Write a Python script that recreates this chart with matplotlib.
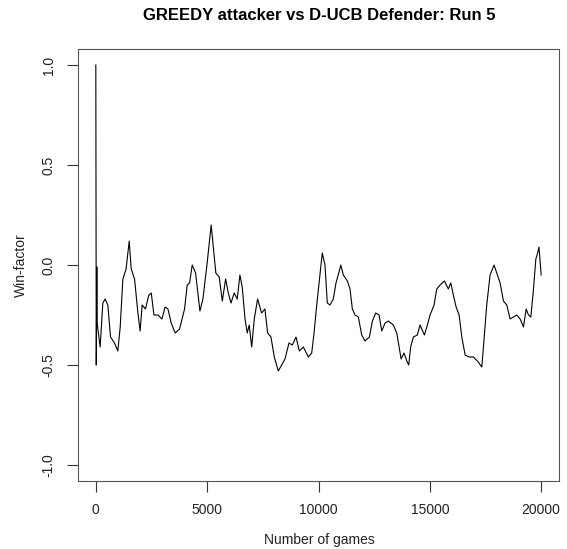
import numpy as np
import matplotlib.pyplot as plt

plt.rcParams['font.family'] = ['Liberation Sans', 'DejaVu Sans']

# Win-factor trace (game number, value)
games = [0, 20, 45, 60, 195, 315, 420, 540, 660, 840, 990, 1095, 1215, 1360,
         1500, 1590, 1740, 1890, 1990, 2080, 2230, 2380, 2490, 2610, 2790,
         2970, 3110, 3240, 3385, 3565, 3760, 3985, 4105, 4210, 4330, 4480,
         4675, 4810, 5000, 5180, 5300, 5390, 5540, 5680, 5830, 5950, 6070,
         6215, 6350, 6470, 6575, 6700, 6800, 6890, 7000, 7115, 7265, 7445,
         7595, 7715, 7865, 8015, 8195, 8345, 8495, 8675, 8825, 8990, 9140,
         9320, 9545, 9695, 9800, 9920, 10065, 10170, 10290, 10395, 10515,
         10665, 10785, 10935, 11000, 11115, 11295, 11415, 11520, 11640,
         11790, 11940, 12090, 12285, 12420, 12570, 12720, 12840, 12990,
         13140, 13360, 13515, 13620, 13710, 13840, 13965, 14050, 14140,
         14260, 14440, 14560, 14755, 14890, 15010, 15190, 15310, 15460,
         15655, 15830, 15940, 16055, 16180, 16315, 16435, 16585, 16760,
         16955, 17135, 17335, 17435, 17555, 17705, 17885, 18035, 18155,
         18305, 18455, 18605, 18755, 18905, 19055, 19205, 19325, 19430,
         19535, 19655, 19760, 19840, 19900, 20000]
win_factor = [1.0, -0.5, -0.01, -0.29, -0.41, -0.19, -0.17, -0.20, -0.36,
              -0.39, -0.43, -0.31, -0.07, -0.02, 0.12, -0.02, -0.07, -0.24,
              -0.33, -0.20, -0.22, -0.15, -0.14, -0.25, -0.25, -0.27, -0.21,
              -0.22, -0.29, -0.34, -0.32, -0.22, -0.10, -0.09, 0.00, -0.04,
              -0.23, -0.17, 0.01, 0.20, 0.06, -0.04, -0.06, -0.18, -0.07,
              -0.14, -0.19, -0.14, -0.17, -0.05, -0.11, -0.27, -0.34, -0.30,
              -0.41, -0.27, -0.17, -0.24, -0.22, -0.34, -0.36, -0.46, -0.53,
              -0.50, -0.47, -0.39, -0.40, -0.36, -0.43, -0.41, -0.46, -0.44,
              -0.34, -0.20, -0.05, 0.06, 0.00, -0.19, -0.20, -0.17, -0.09,
              -0.03, 0.00, -0.05, -0.08, -0.12, -0.22, -0.25, -0.26, -0.35,
              -0.38, -0.36, -0.28, -0.24, -0.25, -0.33, -0.29, -0.28, -0.30,
              -0.34, -0.41, -0.47, -0.44, -0.48, -0.50, -0.41, -0.36, -0.35,
              -0.30, -0.35, -0.30, -0.25, -0.20, -0.12, -0.10, -0.08, -0.12,
              -0.09, -0.15, -0.21, -0.25, -0.36, -0.45, -0.46, -0.46, -0.48,
              -0.51, -0.37, -0.20, -0.05, 0.00, -0.05, -0.09, -0.18, -0.20,
              -0.27, -0.26, -0.25, -0.27, -0.31, -0.22, -0.25, -0.26, -0.12,
              0.03, 0.06, 0.09, -0.05]

xticks = [0, 5000, 10000, 15000, 20000]
yticks = [-1.0, -0.5, 0.0, 0.5, 1.0]

fig = plt.figure(figsize=(5.67, 5.49), dpi=100)
# plot box: x 78..559 px, y 49..481 px
ax = fig.add_axes([78 / 567, 68 / 549, 481 / 567, 432 / 549])

ax.plot(games, win_factor, color='black', linewidth=0.8)

ax.set_xlim(-800, 20800)
ax.set_ylim(-1.08, 1.08)
ax.set_xticks(xticks)
ax.set_xticklabels([str(t) for t in xticks])
ax.set_yticks(yticks)
ax.set_yticklabels(['%.1f' % t for t in yticks], rotation=90, va='center')
ax.tick_params(axis='both', length=8, width=0.8, labelsize=10,
               color='#333333', labelcolor='#222222')
ax.tick_params(axis='x', pad=8)
ax.tick_params(axis='y', pad=8)
for s in ax.spines.values():
    s.set_linewidth(0.8)
    s.set_color('#555555')

fig.text(319 / 567, 1 - 15.5 / 549, 'GREEDY attacker vs D-UCB Defender: Run 5',
         ha='center', va='center', fontsize=12, fontweight='bold')
fig.text(319 / 567, 1 - 540 / 549, 'Number of games',
         ha='center', va='center', fontsize=10, color='#222222')
fig.text(21 / 567, 1 - 265 / 549, 'Win-factor', rotation=90,
         ha='center', va='center', fontsize=10, color='#222222')

fig.savefig('out.png', dpi=100)
